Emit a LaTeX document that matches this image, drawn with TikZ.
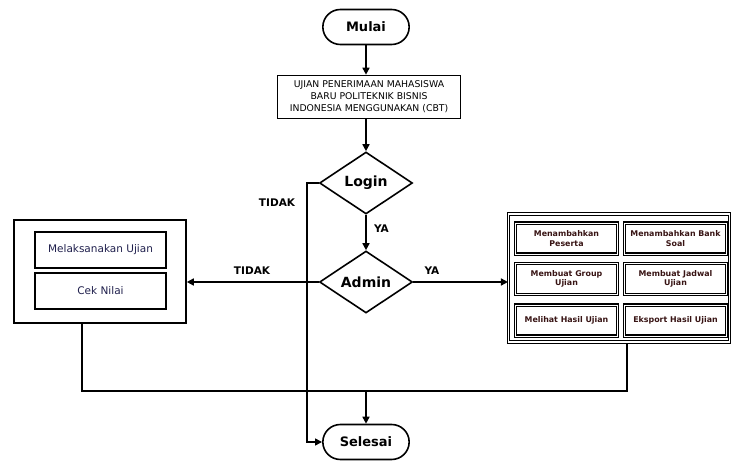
\documentclass[tikz,border=0pt]{standalone}
\usepackage{fontspec}
\setmainfont{DejaVu Sans}
\usetikzlibrary{shapes.geometric,shapes.misc,arrows.meta}
\definecolor{rtxt}{rgb}{0.22,0.08,0.08}
\definecolor{ltxt}{rgb}{0.12,0.12,0.30}
\begin{document}
\begin{tikzpicture}[x=1pt,y=-1pt,line width=1.6pt,
  term/.style={draw,rounded rectangle,minimum width=93pt,minimum height=35pt,font=\fontsize{13}{15}\selectfont\bfseries},
  dec/.style={draw,diamond,minimum width=93pt,minimum height=62pt,inner sep=0pt,font=\fontsize{14}{16}\selectfont\bfseries},
  arr/.style={-{Triangle[length=7pt,width=7pt]}},
  lbl/.style={font=\fontsize{10.5}{12}\selectfont\bfseries},
  lbox/.style={draw,minimum width=131pt,minimum height=36pt,inner sep=1pt,text=ltxt,font=\fontsize{10.5}{12}\selectfont},
  rbox/.style={draw,double=white,double distance=0.9pt,line width=1.2pt,minimum width=102pt,minimum height=31pt,inner sep=1pt,align=center,text=rtxt,font=\fontsize{7.9}{9.5}\selectfont\bfseries}]
\useasboundingbox (0,0) rectangle (732,465);

\node[term] (mulai) at (366,27) {Mulai};
\node[draw,minimum width=183pt,minimum height=43pt,align=center,inner sep=1pt,font=\fontsize{9.3}{12}\selectfont] (cbt) at (369,97)
  {UJIAN PENERIMAAN MAHASISWA\\BARU POLITEKNIK BISNIS\\INDONESIA MENGGUNAKAN (CBT)};
\node[dec] (login) at (366,183) {Login};
\node[dec] (admin) at (366,282) {Admin};
\node[term] (selesai) at (366,442) {Selesai};

% left box
\node[draw,minimum width=172pt,minimum height=103pt] (left) at (100,271.5) {};
\node[lbox] (melak) at (100.5,250) {Melaksanakan Ujian};
\node[lbox] (cek) at (100.5,291) {Cek Nilai};

% right box
\node[draw,double=white,double distance=1.6pt,line width=1.1pt,minimum width=221pt,minimum height=128pt] (right) at (619,278) {};
\node[rbox] (r1) at (566.5,238.5) {Menambahkan\\Peserta};
\node[rbox] (r2) at (675.5,238.5) {Menambahkan Bank\\Soal};
\node[rbox] (r3) at (566.5,279) {Membuat Group\\Ujian};
\node[rbox] (r4) at (675.5,279) {Membuat Jadwal\\Ujian};
\node[rbox] (r5) at (566.5,320.5) {Melihat Hasil Ujian};
\node[rbox] (r6) at (675.5,320.5) {Eksport Hasil Ujian};

% connectors
\draw[arr] (mulai.south) -- (mulai.south |- cbt.north);
\draw[arr] (cbt.south -| login.north) -- (login.north);
\draw[arr] (login) -- (admin) node[lbl,pos=0.4,right=4pt] {YA};
\coordinate (lt) at (307,183);
\draw[arr] (login.west) -- (lt) |- (selesai.west);
\node[lbl] at (277,203) {TIDAK};
\draw[arr] (admin.west) -- (admin.west -| left.east);
\node[lbl] at (252,271) {TIDAK};
\draw[arr] (admin.east) -- (admin.east -| right.west);
\node[lbl] at (432,271) {YA};

\coordinate (bl) at (82,391);
\coordinate (br) at (627,391);
\draw (bl |- left.south) -- (bl) -- (br) -- (br |- right.south);
\draw[arr] (selesai.north |- bl) -- (selesai.north);
\end{tikzpicture}
\end{document}
